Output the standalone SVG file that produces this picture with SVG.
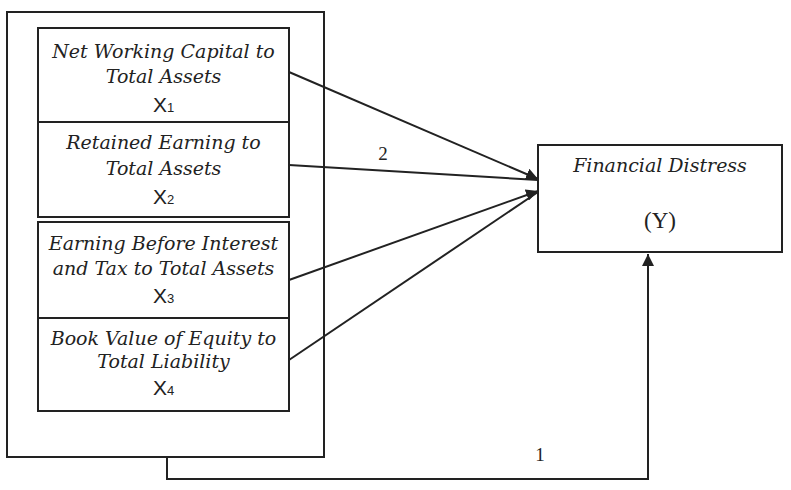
<svg xmlns="http://www.w3.org/2000/svg" width="791" height="490" viewBox="0 0 791 490">
<style>
.box{fill:#fff;stroke:#222;stroke-width:2}
.lbl{font-family:"DejaVu Serif","Liberation Serif",serif;font-style:italic;font-size:19px;fill:#222;text-anchor:middle}
.var{font-family:"Liberation Sans",Arial,sans-serif;font-size:21px;fill:#222;text-anchor:middle}
.sub{font-size:13px}
.num{font-family:"Liberation Serif",serif;font-size:19px;fill:#222;text-anchor:middle}
.conn{fill:none;stroke:#222;stroke-width:2}
</style>
<defs>
<marker id="ah" viewBox="0 0 10 10" refX="10" refY="5" markerWidth="6" markerHeight="6" orient="auto" markerUnits="strokeWidth">
<path d="M0,0 L10,5 L0,10 z" fill="#222"/>
</marker>
</defs>
<rect width="791" height="490" fill="#fff"/>
<g id="outer">
<rect class="box" x="7" y="12" width="317" height="445"/>
</g>
<g id="x1">
<rect class="box" x="38" y="28" width="251" height="94"/>
<text class="lbl" x="163.5" y="58">Net Working Capital to</text>
<text class="lbl" x="163.5" y="83">Total Assets</text>
<text class="var" x="163.5" y="112">X<tspan class="sub">1</tspan></text>
</g>
<g id="x2">
<rect class="box" x="38" y="122" width="251" height="95"/>
<text class="lbl" x="163.5" y="149">Retained Earning to</text>
<text class="lbl" x="163.5" y="175">Total Assets</text>
<text class="var" x="163.5" y="204">X<tspan class="sub">2</tspan></text>
</g>
<g id="x3">
<rect class="box" x="38" y="222" width="251" height="96"/>
<text class="lbl" x="163.5" y="250">Earning Before Interest</text>
<text class="lbl" x="163.5" y="275">and Tax to Total Assets</text>
<text class="var" x="163.5" y="303">X<tspan class="sub">3</tspan></text>
</g>
<g id="x4">
<rect class="box" x="38" y="318" width="251" height="93"/>
<text class="lbl" x="163.5" y="345">Book Value of Equity to</text>
<text class="lbl" x="163.5" y="368">Total Liability</text>
<text class="var" x="163.5" y="395">X<tspan class="sub">4</tspan></text>
</g>
<g id="y">
<rect class="box" x="538" y="145" width="244" height="107"/>
<text class="lbl" x="660" y="172">Financial Distress</text>
<text class="num" x="660" y="228" style="font-size:23px">(Y)</text>
</g>
<g id="connectors">
<line class="conn" x1="289" y1="72" x2="538" y2="179" marker-end="url(#ah)"/>
<line class="conn" x1="289" y1="165" x2="538" y2="180"/>
<line class="conn" x1="289" y1="280" x2="538" y2="191" marker-end="url(#ah)"/>
<line class="conn" x1="289" y1="360" x2="538" y2="192"/>
<polyline class="conn" points="167,457 167,479 648,479 648,254" marker-end="url(#ah)"/>
<text class="num" x="383" y="160">2</text>
<text class="num" x="540" y="461">1</text>
</g>
</svg>
